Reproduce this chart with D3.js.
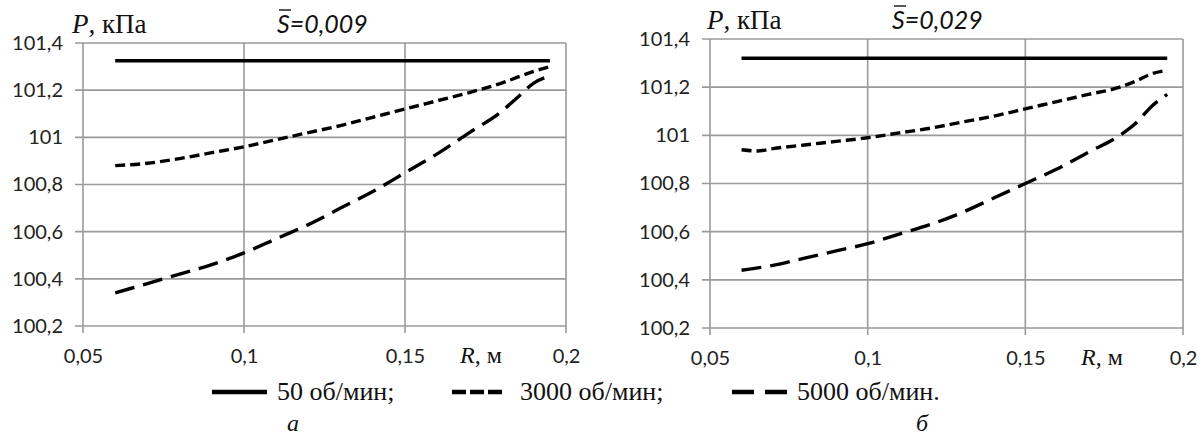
<!DOCTYPE html>
<html><head><meta charset="utf-8">
<script src="https://cdn.jsdelivr.net/npm/d3@7"></script>
<style>body{margin:0;background:#fff;} svg{display:block;}</style>
</head><body>
<svg id="c" width="1204" height="439"></svg>
<script>
// ---- data ----
const xTicks = [0.05, 0.1, 0.15, 0.2];
const yTicks = [100.2, 100.4, 100.6, 100.8, 101, 101.2, 101.4];
const seriesNames = ["50 об/мин;", "3000 об/мин;", "5000 об/мин."];
const panelLabels = ["а", "б"];
const panelS = ["0,009", "0,029"];

// panel а (S=0,009)
const rA50 = [0.06, 0.195];
const pA50 = [101.325, 101.325];
const rA3000 = [0.06, 0.07, 0.08, 0.09, 0.10, 0.11, 0.12, 0.13, 0.14, 0.15, 0.16, 0.17, 0.18, 0.19, 0.195];
const pA3000 = [100.88, 100.89, 100.91, 100.935, 100.96, 100.99, 101.02, 101.05, 101.085, 101.12, 101.155, 101.19, 101.23, 101.28, 101.30];
const rA5000 = [0.06, 0.07, 0.08, 0.09, 0.10, 0.11, 0.12, 0.13, 0.14, 0.15, 0.16, 0.17, 0.18, 0.185, 0.19, 0.195];
const pA5000 = [100.34, 100.38, 100.42, 100.46, 100.51, 100.57, 100.63, 100.70, 100.77, 100.85, 100.93, 101.02, 101.11, 101.17, 101.23, 101.26];

// panel б (S=0,029)
const rB50 = [0.06, 0.195];
const pB50 = [101.32, 101.32];
const rB3000 = [0.06, 0.065, 0.07, 0.08, 0.09, 0.10, 0.11, 0.12, 0.13, 0.14, 0.15, 0.16, 0.17, 0.18, 0.185, 0.19, 0.195];
const pB3000 = [100.94, 100.935, 100.945, 100.96, 100.975, 100.99, 101.01, 101.03, 101.055, 101.08, 101.11, 101.14, 101.17, 101.20, 101.225, 101.255, 101.27];
const rB5000 = [0.06, 0.07, 0.08, 0.09, 0.10, 0.11, 0.12, 0.13, 0.14, 0.15, 0.16, 0.17, 0.18, 0.185, 0.19, 0.195];
const pB5000 = [100.44, 100.46, 100.49, 100.52, 100.55, 100.59, 100.63, 100.68, 100.74, 100.80, 100.86, 100.93, 101.00, 101.05, 101.12, 101.17];

// ---- drawing ----
const svg = d3.select("#c");
const fmt = v => String(+v.toFixed(2)).replace(".", ",");
const dashes = [null, "10,5", "20,9"];
const legendDashes = [null, "14,4", "22,11"];
const serif = "'Liberation Serif', 'Times New Roman', serif";
const sans = "Lato, 'Open Sans', sans-serif";

const panels = [
  {x0: 83, x1: 566, y0: 43, y1: 326, series: [[rA50, pA50], [rA3000, pA3000], [rA5000, pA5000]], titleX: 72, sX: 277, rX: 460, labX: 293},
  {x0: 710, x1: 1183, y0: 39, y1: 328, series: [[rB50, pB50], [rB3000, pB3000], [rB5000, pB5000]], titleX: 707, sX: 892, rX: 1081, labX: 922}
];

panels.forEach((p, i) => {
  const x = d3.scaleLinear().domain([0.05, 0.2]).range([p.x0, p.x1]);
  const y = d3.scaleLinear().domain([100.2, 101.4]).range([p.y1, p.y0]);
  const g = svg.append("g");

  // grid
  g.append("g").selectAll("line").data(yTicks).join("line")
    .attr("x1", p.x0 - 8).attr("x2", p.x1).attr("y1", d => y(d)).attr("y2", d => y(d))
    .attr("stroke", "#9a9a9a").attr("stroke-width", 1.6);
  g.append("g").selectAll("line").data(xTicks).join("line")
    .attr("x1", d => x(d)).attr("x2", d => x(d)).attr("y1", p.y0).attr("y2", p.y1 + 7)
    .attr("stroke", "#9a9a9a").attr("stroke-width", 1.6);

  // axis labels via d3 axes (lines hidden)
  const ya = d3.axisLeft(y).tickValues(yTicks).tickFormat(fmt).tickSize(0).tickPadding(20);
  const yg = g.append("g").attr("transform", `translate(${p.x0},0)`).call(ya);
  yg.select(".domain").remove();
  yg.selectAll("text").attr("font-family", sans).attr("font-size", 20).attr("fill", "#222");
  const xa = d3.axisBottom(x).tickValues(xTicks).tickFormat(fmt).tickSize(0).tickPadding(23);
  const xg = g.append("g").attr("transform", `translate(0,${p.y1})`).call(xa);
  xg.select(".domain").remove();
  xg.selectAll("text").attr("font-family", sans).attr("font-size", 20).attr("fill", "#222");

  // series
  p.series.forEach((s, k) => {
    const pts = s[0].map((r, j) => [r, s[1][j]]);
    const line = d3.line().x(d => x(d[0])).y(d => y(d[1])).curve(d3.curveMonotoneX);
    g.append("path").datum(pts).attr("d", line)
      .attr("fill", "none").attr("stroke", "#000").attr("stroke-width", 3.4)
      .attr("stroke-dasharray", dashes[k]);
  });

  // titles
  const t = g.append("text").attr("x", p.titleX).attr("y", p.y0 - 10)
    .attr("font-family", serif).attr("font-size", 27).attr("fill", "#111");
  t.append("tspan").attr("font-style", "italic").text("P");
  t.append("tspan").text(", кПа");

  const st = g.append("text").attr("x", p.sX).attr("y", p.y0 - 10)
    .attr("font-family", sans).attr("font-style", "italic").attr("font-size", 25).attr("fill", "#111");
  st.append("tspan").text("S");
  st.append("tspan").text("=" + panelS[i]);
  g.append("line").attr("x1", p.sX + 2).attr("x2", p.sX + 14).attr("y1", p.y0 - 33).attr("y2", p.y0 - 33)
    .attr("stroke", "#111").attr("stroke-width", 1.4);

  const rt = g.append("text").attr("x", p.rX).attr("y", p.y1 + 37)
    .attr("font-family", serif).attr("font-size", 24).attr("fill", "#111");
  rt.append("tspan").attr("font-style", "italic").text("R");
  rt.append("tspan").text(", м");

  svg.append("text").attr("x", p.labX).attr("y", 431).attr("text-anchor", "middle")
    .attr("font-family", serif).attr("font-style", "italic")
    .attr("font-size", 24).attr("fill", "#111").text(panelLabels[i]);
});

// legend
const legX = [[212, 267, 277], [452, 502, 520], [732, 787, 797]];
const legY = 392;
seriesNames.forEach((n, k) => {
  svg.append("line").attr("x1", legX[k][0]).attr("x2", legX[k][1]).attr("y1", legY).attr("y2", legY)
    .attr("stroke", "#000").attr("stroke-width", 4.5).attr("stroke-dasharray", legendDashes[k]);
  svg.append("text").attr("x", legX[k][2]).attr("y", legY + 8)
    .attr("font-family", serif).attr("font-size", 26).attr("fill", "#111").text(n);
});
</script>
</body></html>
